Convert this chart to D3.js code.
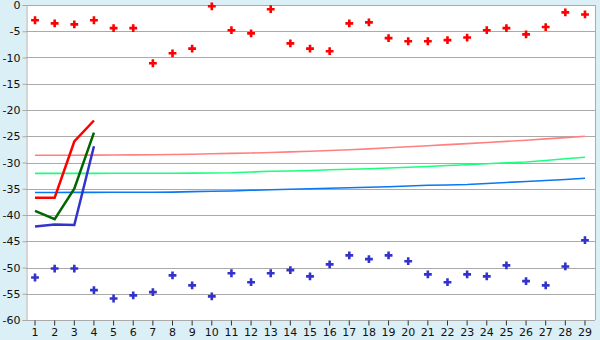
<html>
<script src='https://d3js.org/d3.v7.min.js'></script>
<body style="margin:0">
<svg width=600 height=340></svg>
<script>
// categories 1..29
var cats = d3.range(1, 30);
var yTicks = d3.range(0, -65, -5);

// scatter series
var redPts = [-2.9, -3.5, -3.7, -2.9, -4.4, -4.4, -11.1, -9.2, -8.3, -0.25,
  -4.8, -5.4, -0.8, -7.3, -8.3, -8.8, -3.5, -3.3, -6.3, -6.9,
  -6.9, -6.7, -6.2, -4.8, -4.4, -5.6, -4.2, -1.4, -1.8];
var bluePts = [-51.9, -50.2, -50.2, -54.3, -55.9, -55.3, -54.7, -51.5, -53.4, -55.5,
  -51.1, -52.8, -51.1, -50.5, -51.7, -49.4, -47.7, -48.4, -47.7, -48.8,
  -51.3, -52.8, -51.3, -51.7, -49.6, -52.6, -53.4, -49.8, -44.8];

// short line series (categories 1-4)
var redLine = [-36.7, -36.7, -26.0, -22.0];
var greenLine = [-39.2, -40.8, -35.0, -24.3];
var blueLine = [-42.2, -41.8, -41.9, -26.9];

// long trend series
var pinkTrend = [-28.63, -28.62, -28.61, -28.59, -28.57, -28.55, -28.52, -28.48, -28.42, -28.34,
  -28.27, -28.19, -28.10, -27.98, -27.85, -27.71, -27.58, -27.40, -27.20, -27.00,
  -26.80, -26.60, -26.40, -26.20, -25.98, -25.75, -25.50, -25.26, -25.01];
var greenTrend = [-32.08, -32.08, -32.07, -32.07, -32.06, -32.06, -32.05, -32.04, -32.02, -32.00,
  -31.96, -31.81, -31.68, -31.62, -31.52, -31.39, -31.30, -31.20, -31.05, -30.91,
  -30.76, -30.57, -30.44, -30.25, -30.06, -29.90, -29.62, -29.30, -29.01];
var blueTrend = [-35.70, -35.70, -35.69, -35.69, -35.68, -35.67, -35.66, -35.64, -35.55, -35.49,
  -35.43, -35.30, -35.20, -35.10, -35.01, -34.91, -34.82, -34.72, -34.63, -34.48,
  -34.34, -34.29, -34.19, -34.00, -33.81, -33.62, -33.43, -33.24, -33.01];

var width = 600, height = 340;
var margin = {top: 5, right: 5, bottom: 20, left: 26};
var svg = d3.select("svg");

svg.append("rect").attr("width", width).attr("height", height).attr("fill", "#daeff6");

var x = d3.scaleBand().domain(cats).range([25.2, 594.8]);
var y = d3.scaleLinear().domain([-60, 0]).range([height - margin.bottom, margin.top]);
var cx = function(i) { return x(cats[i]) + x.bandwidth() / 2; };

svg.append("rect")
  .attr("x", margin.left).attr("y", margin.top)
  .attr("width", width - margin.right - margin.left)
  .attr("height", height - margin.bottom - margin.top)
  .attr("fill", "white");

// grid lines
svg.append("g").selectAll("line").data(yTicks).enter().append("line")
  .attr("x1", margin.left).attr("x2", width - margin.right)
  .attr("y1", d => Math.round(y(d)) + 0.5).attr("y2", d => Math.round(y(d)) + 0.5)
  .attr("stroke", "#aaaaaa");
svg.append("line")
  .attr("x1", width - margin.right + 0.5).attr("x2", width - margin.right + 0.5)
  .attr("y1", margin.top).attr("y2", height - margin.bottom)
  .attr("stroke", "#aaaaaa");

// axes
var yAxis = svg.append("g")
  .attr("transform", "translate(" + (margin.left + 0.5) + ",0)")
  .call(d3.axisLeft(y).tickValues(yTicks).tickSize(4).tickPadding(2).tickFormat(d => d === 0 ? "0" : "-" + Math.abs(d)));
var xAxis = svg.append("g")
  .attr("transform", "translate(0," + (Math.round(y(-60)) + 0.5) + ")")
  .call(d3.axisBottom(x).tickSize(5).tickPadding(3).tickSizeOuter(0));
[yAxis, xAxis].forEach(function(g) {
  g.select(".domain").attr("stroke", "#aaaaaa");
  g.selectAll(".tick line").attr("stroke", "#333");
  g.selectAll("text").attr("fill", "#111").style("font-family", "DejaVu Sans").style("font-size", "11px");
});
yAxis.selectAll(".tick line").attr("stroke", "#aaaaaa");
xAxis.select(".domain").attr("d", "M" + margin.left + ",0H" + (width - margin.right));

// trend lines
var line = d3.line().x((d, i) => cx(i)).y(d => y(d));
[[pinkTrend, "#ff8080"], [greenTrend, "#1aff80"], [blueTrend, "#0a78f0"]].forEach(function(s) {
  svg.append("path").datum(s[0]).attr("d", line)
    .attr("fill", "none").attr("stroke", s[1]).attr("stroke-width", 1.6);
});

// short series lines
[[redLine, "#ff0000"], [greenLine, "#006600"], [blueLine, "#3333cc"]].forEach(function(s) {
  svg.append("path").datum(s[0]).attr("d", line)
    .attr("fill", "none").attr("stroke", s[1]).attr("stroke-width", 2.5);
});

// scatter markers
var cross = d3.symbol().type(d3.symbolCross).size(34);
[[redPts, "#ff0000"], [bluePts, "#3333cc"]].forEach(function(s) {
  svg.append("g").selectAll("path").data(s[0]).enter().append("path")
    .attr("d", cross)
    .attr("transform", (d, i) => "translate(" + cx(i) + "," + y(d) + ")")
    .attr("fill", s[1]);
});
</script>
</body>
</html>
